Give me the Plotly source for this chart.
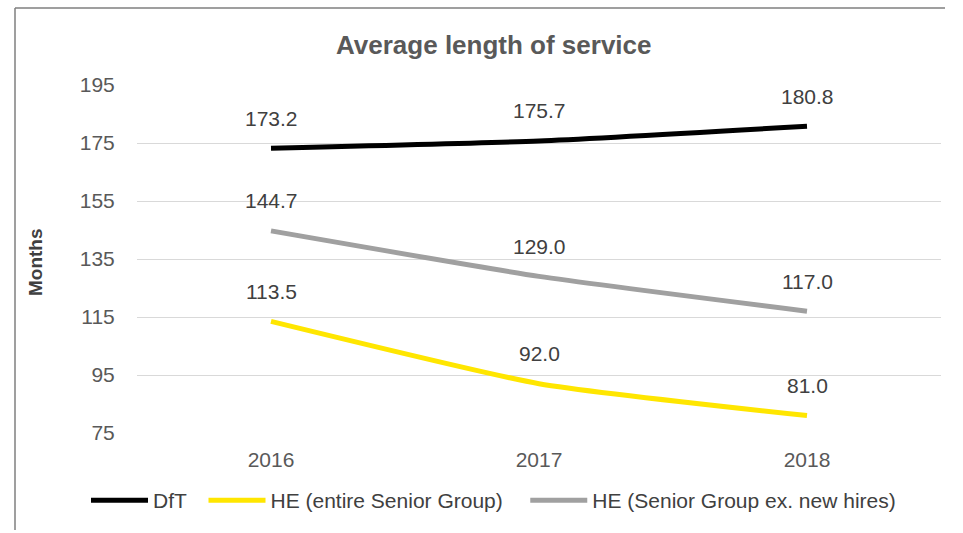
import plotly.graph_objects as go

years = ["2016", "2017", "2018"]
dft = [173.2, 175.7, 180.8]
he_entire = [113.5, 92.0, 81.0]
he_ex_new = [144.7, 129.0, 117.0]
y_ticks = [75, 95, 115, 135, 155, 175, 195]

NB = "\u00a0"
series = [
    ("DfT" + NB * 2, dft, "#000000"),
    ("HE (entire Senior Group)" + NB * 3, he_entire, "#FFE600"),
    ("HE (Senior Group ex. new hires)", he_ex_new, "#A0A0A0"),
]

FONT = "Liberation Sans, Arial, sans-serif"
W, H = 963, 533
L, R, T, B = 137, 22, 85, 100
pw, ph = W - L - R, H - T - B


def px(x):
    return (x - L) / pw


def py(y):
    return (H - B - y) / ph


fig = go.Figure()
annotations = []
for name, vals, color in series:
    fig.add_trace(go.Scatter(
        x=years, y=vals, name=name, mode="lines",
        line=dict(color=color, width=5, shape="spline", smoothing=0.5),
        hoverinfo="skip",
    ))
    for i, v in enumerate(vals):
        annotations.append(dict(
            x=i, y=v, xref="x", yref="y", text=f"{v:.1f}", showarrow=False,
            xanchor="center", yanchor="middle",
            yshift=30, font=dict(family=FONT, size=21, color="#404040"),
        ))

annotations.append(dict(
    x=px(494), y=py(45), xref="paper", yref="paper", text="<b>Average length of service</b>",
    xanchor="center", yanchor="middle",
    showarrow=False, font=dict(family=FONT, size=26, color="#595959"),
))
annotations.append(dict(
    x=px(35), y=py(262), xref="paper", yref="paper", text="<b>Months</b>", textangle=-90,
    xanchor="center", yanchor="middle",
    showarrow=False, font=dict(family=FONT, size=19, color="#404040"),
))

fig.update_layout(
    width=W, height=H,
    margin=dict(l=L, r=R, t=T, b=B, autoexpand=False),
    paper_bgcolor="white", plot_bgcolor="white",
    font=dict(family=FONT, size=21, color="#595959"),
    showlegend=True,
    legend=dict(orientation="h", x=px(86), xanchor="left",
                y=py(480), yanchor="top",
                font=dict(family=FONT, size=21, color="#404040"), itemwidth=57,
                tracegroupgap=0),
    xaxis=dict(type="category", range=[-0.5, 2.5], showgrid=False, showline=False,
               ticks="outside", ticklen=8, tickcolor="white",
               tickfont=dict(size=21, color="#595959"), zeroline=False, automargin=False),
    yaxis=dict(range=[75, 195], tickvals=y_ticks, showgrid=True, gridcolor="#D9D9D9",
               gridwidth=1, zeroline=False, showline=False, ticks="outside",
               ticklen=17, tickcolor="white", tickfont=dict(size=21, color="#595959"),
               automargin=False),
    annotations=annotations,
)

# chart border (left/top visible, as in the scanned original)
fig.add_shape(type="line", xref="paper", yref="paper", x0=px(15), x1=px(15), y0=py(8), y1=py(530),
              line=dict(color="#7F7F7F", width=1.5))
fig.add_shape(type="line", xref="paper", yref="paper", x0=px(15), x1=px(945), y0=py(8), y1=py(8),
              line=dict(color="#7F7F7F", width=1.5))

fig.write_html("out.html")
